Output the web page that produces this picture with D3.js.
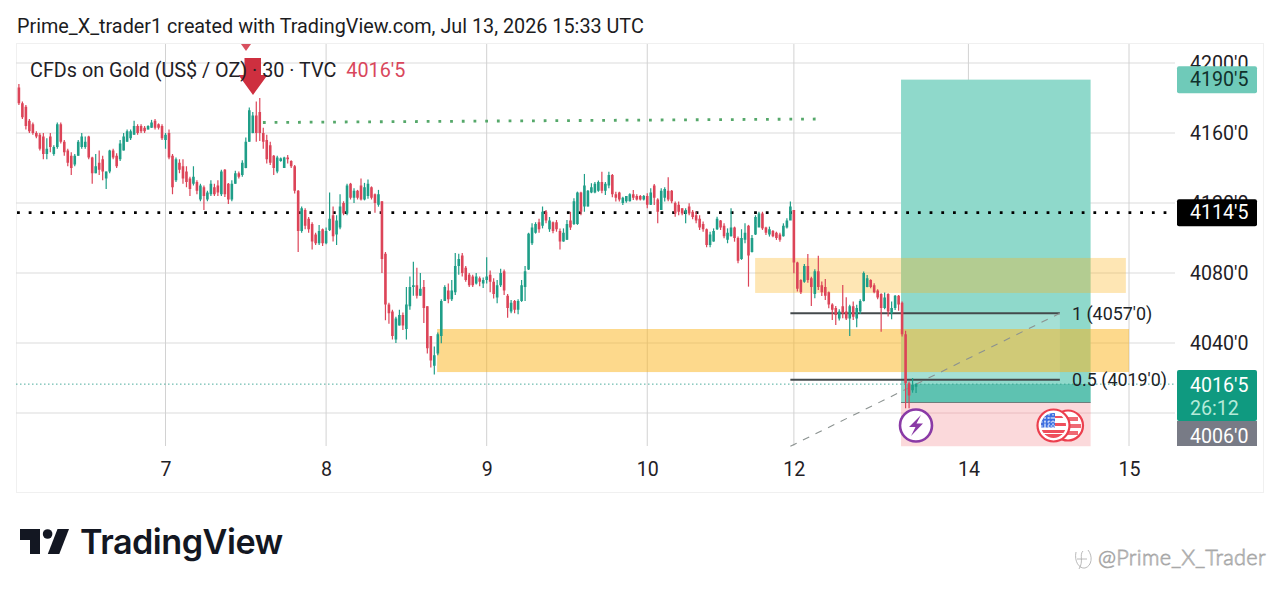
<!DOCTYPE html>
<html>
<head>
<meta charset="utf-8">
<script src="https://cdn.jsdelivr.net/npm/d3@7/dist/d3.min.js"></script>
<style>
  html, body { margin: 0; padding: 0; background: #fff; }
  svg { display: block; font-family: Roboto, sans-serif; }
</style>
</head>
<body>
<svg id="chart" width="1280" height="592"></svg>
<script>
// 30-minute gold candles, each row is open, high, low, close
const candles = [
[4186,4188,4176,4177],[4177,4178,4168,4169],[4175,4176,4162,4164],[4167,4168,4160,4161],[4165,4166,4159,4160],
[4160,4161,4157,4158],[4159,4160,4150,4151],[4158,4160,4145,4148],[4148,4157,4145,4151],[4158,4160,4149,4152],
[4148,4153,4147,4152],[4152,4166,4151,4165],[4165,4166,4154,4155],[4155,4156,4147,4149],[4150,4151,4141,4143],
[4147,4149,4136,4140],[4142,4148,4141,4147],[4147,4156,4147,4155],[4152,4160,4151,4158],[4152,4158,4151,4155],
[4158,4158.5,4145,4146],[4146,4146.5,4131,4137],[4137,4148,4137,4141],[4143,4150,4136,4139],[4145,4147,4133,4138],
[4134,4138,4128,4138],[4138,4150.5,4137,4150],[4150,4151,4145,4146],[4147,4148.5,4140,4141],[4145,4156,4144,4154],
[4150,4160,4150,4158],[4155,4162,4155,4161],[4157,4162,4156,4161],[4159,4167,4159,4164],[4164,4165,4159,4160],
[4164,4165,4160,4161],[4163,4164,4160,4161],[4162,4164.5,4162,4164],[4163,4167.5,4163,4166],[4167,4168,4162,4163],
[4165,4165.5,4162,4163],[4164,4165,4156,4157],[4156,4160,4151,4159],[4160,4162,4145,4146],[4147,4148,4125,4129],
[4133,4146,4132,4145],[4143,4145,4137,4139],[4141,4145,4131,4134],[4138,4141,4129,4132],[4134,4135,4124,4128],
[4131,4141,4130,4135],[4132,4133,4125,4127],[4122,4131,4121,4130],[4129,4130,4116,4124],[4122,4127,4121,4126],
[4125,4133,4124,4131],[4129,4131,4124,4125],[4130,4133,4124,4126],[4125,4139,4124,4138],[4139,4139.5,4123.5,4125],
[4131,4131.5,4119.5,4122],[4122,4133,4121,4131],[4131,4138.5,4131,4137],[4137,4138,4134,4135],[4136,4144.5,4135,4143],
[4140,4157.5,4139.8,4155],[4155,4174.6,4155,4173],[4160,4172,4159.8,4170],[4170,4178,4155,4160],[4172,4180,4155.5,4160],
[4160,4163,4151,4155],[4156,4159,4142.6,4145],[4153,4155,4141.7,4143],[4147,4147.4,4136,4140],[4138,4147,4137,4146],
[4144,4146,4143.6,4145.5],[4140,4146.4,4140,4146],[4146,4147.4,4142.6,4145],[4144,4144.5,4140,4141],[4141,4141.7,4125.5,4127],
[4127,4127.5,4092,4104],[4104,4118,4103,4117],[4116,4117,4105,4107],[4111,4112,4103,4105],[4108,4109,4093.5,4098],
[4102,4103,4096,4097],[4097,4107.5,4096,4104],[4105,4105.5,4095.5,4097],[4097,4106,4096.5,4104],[4104.5,4126,4104,4111],
[4113,4118,4098,4101],[4102,4113,4096,4110],[4106,4125,4105,4118],[4120,4121,4113,4114],[4114,4131,4113,4130],
[4131,4131.5,4122,4123],[4123,4128.5,4120,4127],[4127,4127.5,4122,4123],[4130,4134,4121.5,4122],[4122,4131.5,4121.5,4129],
[4124,4133.5,4122.5,4131],[4129,4129.5,4122,4123],[4125,4125.5,4114.5,4120],[4119,4127.5,4117.9,4125],[4121,4121,4080,4088],
[4091,4092,4053,4062],[4062,4063,4051,4057],[4058,4059,4042,4044],[4042,4055,4040,4054],[4050,4059,4050,4056],
[4056,4057.5,4047.5,4050],[4048,4072,4042,4062],[4061,4078,4059,4072],[4072,4086.5,4067,4073],[4073,4083,4065.5,4067],
[4067,4080,4067,4071],[4072,4076,4051.5,4060],[4061,4061,4034,4037],[4044,4044,4026,4030],[4027,4038,4022,4033],
[4034,4046,4033,4045],[4044,4065,4039.8,4064],[4064,4073,4064,4072],[4070,4074,4062.7,4065],[4065,4076,4064,4070],
[4069,4091.5,4067.5,4084],[4084,4091,4079,4088],[4090,4091.5,4078,4080],[4083,4084,4075,4076],[4079,4080,4072,4073],
[4078,4079,4072,4073],[4074,4080,4073.5,4078],[4077,4078,4072.5,4075],[4074,4077.5,4071.5,4076],[4076,4089,4074,4078],
[4079,4081.5,4069,4075],[4075,4077,4065.5,4068],[4066,4076,4062.7,4073],[4073,4082.5,4072,4080],[4081,4082,4067.5,4070],
[4067,4068,4054.5,4060],[4058,4064.6,4057,4063],[4064,4064.6,4057,4059],[4059,4065,4056.5,4064],[4064,4076,4063.5,4073],
[4072,4084,4064,4081],[4082,4103,4081.7,4102.5],[4097,4108.5,4096,4106],[4103,4109,4102.5,4108],[4109,4111,4103,4105],
[4107,4118,4105.5,4115],[4115,4116,4108.4,4110],[4105,4112,4103.5,4110],[4109,4109.4,4102.7,4104],[4109,4110.3,4103.6,4105],
[4104,4105.5,4093.5,4098],[4098,4105.5,4097.9,4103],[4099,4110.3,4098.9,4108],[4110,4115,4104.6,4106],[4108,4122.7,4107.5,4121],
[4108,4126.5,4107.5,4126],[4126,4126.5,4113,4115],[4118,4136.6,4115,4130],[4118,4127.5,4118,4127],[4126,4131.3,4125.6,4129],
[4126,4132,4125.6,4131],[4127,4132.8,4126.5,4132],[4132,4137.9,4125.6,4127],[4127,4132,4124.6,4131],[4130,4137.9,4128.4,4136],
[4136,4136.6,4123.3,4125],[4125,4126.5,4120.8,4123],[4126,4126.5,4120.8,4122],[4120,4123.6,4118.9,4123],[4121,4124,4120.2,4124],
[4121,4125.6,4120.8,4125],[4125,4127.5,4121.7,4123],[4124,4125,4121.4,4122],[4124,4124.6,4121.4,4122],[4122,4124.6,4121.4,4124],
[4124,4125.6,4117,4119],[4119,4128.4,4118.9,4126],[4130,4130.9,4118.9,4123],[4122,4122.7,4108.4,4115],[4116,4128.4,4116,4127],
[4123,4129,4120.8,4128],[4127,4134.7,4121,4122],[4127,4127.5,4119.8,4121],[4120,4120.8,4112.2,4114],[4119,4120.8,4113,4115],
[4117,4117,4113,4114],[4114,4117,4108.4,4116],[4118,4119.8,4113,4114],[4115,4116,4110.7,4112],[4113,4115,4108.4,4110],
[4111,4113,4104.6,4106],[4108,4109.4,4103.6,4105],[4105,4105.5,4094.7,4096],[4096,4103.6,4094.7,4102],[4098,4105.5,4097.9,4104],
[4105,4112.2,4104.6,4111],[4110,4110.3,4104.6,4106],[4107,4108.4,4099.8,4101],[4099,4105.5,4097,4103],[4101,4117,4100.8,4106],
[4106,4106.5,4097.9,4100],[4100,4100.8,4085.6,4087],[4088,4105,4087.5,4100],[4099,4108.4,4097,4103],[4107,4107.5,4072.2,4090],
[4092,4101.7,4091.7,4100],[4102,4113,4101.7,4112],[4106,4115,4106.5,4114],[4114,4115,4104.6,4105.5],[4106,4106.5,4101.7,4103],
[4102,4106.5,4100.8,4105],[4104,4104.6,4100.4,4101],[4103,4103.6,4098.9,4100],[4102,4103,4097.9,4099],[4101,4108.4,4100.8,4107],
[4106,4111.3,4105.5,4110],[4110,4120.8,4110.3,4118],[4116,4116,4079.9,4086],[4086,4086.5,4069.4,4071],[4076,4076.4,4068,4069],
[4075,4085.2,4074.5,4084],[4084,4090.9,4074.5,4076],[4077,4077.9,4061.2,4072],[4068,4082.1,4065.6,4081],[4081,4089.8,4070.3,4072],
[4073,4075.1,4066.9,4069],[4072,4076.6,4064.6,4067],[4069,4069.4,4059.8,4062],[4062,4062.7,4053.2,4059],[4060,4061.2,4050.3,4056],
[4054,4059.3,4052.8,4058],[4061,4073.2,4054.1,4057],[4058,4066.1,4053.2,4054],[4054,4061.8,4044,4061],[4061,4063.7,4053.2,4055],
[4054,4061.8,4049,4060],[4058,4065,4056.6,4064],[4064,4080.8,4063.7,4080],[4072,4078.9,4071.9,4077],[4076,4076.4,4071.3,4072],
[4073,4074.1,4068.4,4069],[4070,4070.7,4065,4066],[4068,4068.4,4046.5,4060],[4060,4068.8,4059.3,4066],[4068,4068.4,4055.1,4058],
[4057,4063.7,4053.6,4060],[4060,4067.5,4058.9,4067],[4067,4067.5,4058.5,4062],[4063,4063.7,4043.7,4045],[4045,4047,4002.7,4017],
[4017,4018,4002.7,4010],[4013,4020,4011.6,4016],[4015,4017,4011.5,4016.5]
];

const priceTicks = [4200, 4160, 4120, 4080, 4040, 4000];
const dayLabels = ["7", "8", "9", "10", "12", "14", "15"];
const dayBars = [42, 88, 134, 180, 222, 272, 318];

const lastPrice = 4016.5;
const takeProfit = 4190.5;
const entryPrice = 4006;
const stopPrice = 3981;
const keyLevel = 4114.5;
const fibOne = 4057;
const fibHalf = 4019;

// Bar spans and price spans of the drawn rectangles and trend lines
const positionBars = [252.7, 307];
const upperZoneBars = [210.9, 317.1];
const upperZonePrices = [4088.6, 4068.6];
const lowerZoneBars = [119.8, 318];
const lowerZonePrices = [4048, 4023.4];
const fibBars = [221, 298.2];
const trendBars = [69.9, 228.9];
const trendPrices = [4166, 4168];

const UP = "#1f9e88", DOWN = "#dc4458";
const svg = d3.select("#chart");

const x = d3.scaleLinear().domain([0, 318]).range([18.9, 1129]);
const y = d3.scaleLinear().domain([4200, 4000]).range([63, 413]);
const plotLeft = 16, plotRight = 1175, plotTop = 44, plotBottom = 446;

// Page heading
svg.append("text").attr("x", 17).attr("y", 32.5).attr("font-size", 19.8).attr("fill", "#1c1c1e")
  .text("Prime_X_trader1 created with TradingView.com, Jul 13, 2026 15:33 UTC");

// Chart frame
svg.append("rect").attr("x", 16.5).attr("y", 43.5).attr("width", 1247).attr("height", 449)
  .attr("fill", "none").attr("stroke", "#f0f0f0");

// Grid from the two scales
const gridG = svg.append("g");
gridG.selectAll(".h").data(priceTicks).join("line")
  .attr("x1", plotLeft).attr("x2", plotRight).attr("y1", d => y(d)).attr("y2", d => y(d))
  .attr("stroke", "#dbdbdb").attr("stroke-width", 1);
gridG.selectAll(".v").data(dayBars).join("line")
  .attr("x1", d => x(d)).attr("x2", d => x(d)).attr("y1", plotTop).attr("y2", plotBottom)
  .attr("stroke", "#d2d2d2").attr("stroke-width", 1);

function band(bars, prices, fill, opacity) {
  const top = y(d3.max(prices)), bottom = y(d3.min(prices));
  return svg.append("rect").attr("x", x(bars[0])).attr("width", x(bars[1]) - x(bars[0]))
    .attr("y", top).attr("height", bottom - top).attr("fill", fill).attr("fill-opacity", opacity);
}

// Long position tool: profit side, stop side, and the filled part up to the last price
band(positionBars, [takeProfit, entryPrice], "#8fd9cb", 1);
band(positionBars, [entryPrice, stopPrice], "#fbd9db", 1);
band([254, positionBars[1]], [lastPrice, entryPrice], "#089981", 0.36);

// Retracement fill between its two levels
band([positionBars[0], fibBars[1]], [fibOne, fibHalf], "#ffffff", 0.2);

// Supply and demand zones
band(upperZoneBars, upperZonePrices, "#fbb31a", 0.33);
band(lowerZoneBars, lowerZonePrices, "#fbb31a", 0.5);

// Grid faintly showing through the position tool
svg.append("g").selectAll("line").data(priceTicks.filter(d => d === 4000)).join("line")
  .attr("x1", x(positionBars[0])).attr("x2", x(positionBars[1])).attr("y1", d => y(d)).attr("y2", d => y(d))
  .attr("stroke", "#e9bcc0");

// Entry edge
svg.append("line").attr("x1", x(positionBars[0])).attr("x2", x(positionBars[1]))
  .attr("y1", y(entryPrice)).attr("y2", y(entryPrice)).attr("stroke", "#6f7d7c").attr("stroke-width", 1.2);

// Last price and key level
svg.append("line").attr("x1", plotLeft).attr("x2", plotRight).attr("y1", y(lastPrice)).attr("y2", y(lastPrice))
  .attr("stroke", "#2f9f8d").attr("stroke-width", 1).attr("stroke-dasharray", "1.5 2.5").attr("opacity", 0.85);
svg.append("line").attr("x1", 17).attr("x2", 1172).attr("y1", y(keyLevel)).attr("y2", y(keyLevel))
  .attr("stroke", "#000").attr("stroke-width", 2.8).attr("stroke-dasharray", "2.8 8.9");

// Green dotted trend line
svg.append("line").attr("x1", x(trendBars[0])).attr("x2", x(trendBars[1]))
  .attr("y1", y(trendPrices[0])).attr("y2", y(trendPrices[1]))
  .attr("stroke", "#55a86a").attr("stroke-width", 2.8).attr("stroke-dasharray", "2.8 8.9");

// Retracement levels and diagonal
[fibOne, fibHalf].forEach(level => {
  svg.append("line").attr("x1", x(fibBars[0])).attr("x2", x(fibBars[1])).attr("y1", y(level)).attr("y2", y(level))
    .attr("stroke", "#444a4c").attr("stroke-width", 1.8);
});
svg.append("line").attr("x1", x(fibBars[0])).attr("x2", x(fibBars[1])).attr("y1", y(stopPrice)).attr("y2", y(fibOne))
  .attr("stroke", "#8b9290").attr("stroke-width", 1.1).attr("stroke-dasharray", "7 7");

// Candles: one wick line and one body rectangle per row
const candleG = svg.append("g");
const barGroups = candleG.selectAll("g").data(candles).join("g")
  .attr("fill", d => d[3] >= d[0] ? UP : DOWN)
  .attr("stroke", d => d[3] >= d[0] ? UP : DOWN);
barGroups.append("line")
  .attr("x1", (d, i) => x(i)).attr("x2", (d, i) => x(i))
  .attr("y1", d => y(d[1])).attr("y2", d => y(d[2]))
  .attr("stroke-width", 1.2);
barGroups.append("rect")
  .attr("x", (d, i) => x(i) - 1.3).attr("width", 2.6)
  .attr("y", d => y(Math.max(d[0], d[3])))
  .attr("height", d => Math.max(0.8, Math.abs(y(d[0]) - y(d[3]))))
  .attr("stroke", "none");

// Price and date axes
const yAxis = d3.axisRight(y).tickValues(priceTicks.filter(d => d >= 4040))
  .tickSize(0).tickPadding(0).tickFormat(d => d + "'0");
const yG = svg.append("g").attr("transform", "translate(1190,0)").call(yAxis);
yG.select(".domain").remove();
yG.selectAll("text").attr("font-family", "Roboto, sans-serif").attr("font-size", 19.6).attr("fill", "#1f2126");

const xAxis = d3.axisBottom(x).tickValues(dayBars).tickSize(0).tickPadding(0)
  .tickFormat((d, i) => dayLabels[i]);
const xG = svg.append("g").attr("transform", "translate(0,462)").call(xAxis);
xG.select(".domain").remove();
xG.selectAll("text").attr("font-family", "Roboto, sans-serif").attr("font-size", 19.6).attr("fill", "#1f2126");

// Sell arrow above the swing high, under the legend text
svg.append("path").attr("d", "M244.5 58H261V75H267.5L253 95L238.5 75H244.5Z").attr("fill", "#ce2f3f");
svg.append("path").attr("d", "M241 44H251L246 51Z").attr("fill", "#d8505f");

// Symbol legend
const legend = svg.append("text").attr("x", 30).attr("y", 76.5).attr("font-size", 19.8).attr("fill", "#1f2126");
legend.append("tspan").text("CFDs on Gold (US$ / OZ) · 30 · TVC");
legend.append("tspan").attr("dx", 10).attr("fill", "#d9475c").text("4016'5");

// Fibonacci level labels
[[fibOne, "1 (4057'0)"], [fibHalf, "0.5 (4019'0)"]].forEach(([level, label]) => {
  svg.append("text").attr("x", 1072).attr("y", y(level)).attr("dy", "0.35em")
    .attr("font-size", 17.9).attr("fill", "#202326").text(label);
});

// Price tags on the axis
function tag(price, h, fill, ink, label) {
  const cy = y(price);
  svg.append("rect").attr("x", 1177).attr("y", cy - h / 2).attr("width", 80).attr("height", h).attr("rx", 2).attr("fill", fill);
  svg.append("text").attr("x", 1190).attr("y", cy).attr("dy", "0.35em").attr("font-size", 19.6).attr("fill", ink).text(label);
}
tag(takeProfit, 27, "#6fcab9", "#10312c", "4190'5");
tag(keyLevel, 27, "#000000", "#ffffff", "4114'5");
svg.append("rect").attr("x", 1177).attr("y", 370).attr("width", 80).attr("height", 51).attr("rx", 2).attr("fill", "#0f9a80");
svg.append("text").attr("x", 1190).attr("y", 392).attr("font-size", 19.6).attr("fill", "#ffffff").text("4016'5");
svg.append("text").attr("x", 1190).attr("y", 415).attr("font-size", 19.6).attr("fill", "#b6ead9").text("26:12");
svg.append("rect").attr("x", 1177).attr("y", 421).attr("width", 80).attr("height", 25).attr("fill", "#787b86");
svg.append("text").attr("x", 1190).attr("y", 443).attr("font-size", 19.6).attr("fill", "#ffffff").text("4006'0");

// News marker
svg.append("circle").attr("cx", 916).attr("cy", 425.5).attr("r", 16).attr("fill", "#fff")
  .attr("stroke", "#8a3aa6").attr("stroke-width", 2.6);
svg.append("path").attr("d", "M921 415L909 427H915.5L911 436L923 423.5H916.5Z").attr("fill", "#8a3aa6");

// Currency event flags
svg.append("circle").attr("cx", 1068).attr("cy", 425.5).attr("r", 15).attr("fill", "#fff")
  .attr("stroke", "#ec3f4e").attr("stroke-width", 2.2);
svg.append("path").attr("d", "M1063 417H1078V421H1063ZM1063 424H1081V428H1063ZM1063 431H1078V435H1063Z").attr("fill", "#ef6a74");
svg.append("circle").attr("cx", 1053.5).attr("cy", 425.5).attr("r", 16).attr("fill", "#fff")
  .attr("stroke", "#ec3f4e").attr("stroke-width", 2.2);
const flagClip = svg.append("defs").append("clipPath").attr("id", "flagRound");
flagClip.append("circle").attr("cx", 1053.5).attr("cy", 425.5).attr("r", 12.5);
const flag = svg.append("g").attr("clip-path", "url(#flagRound)");
["M1040 416H1068V418H1040Z", "M1040 423H1068V426H1040Z", "M1040 430H1068V433H1040Z", "M1040 434H1068V439H1040Z"]
  .forEach(d => flag.append("path").attr("d", d).attr("fill", "#ef4f5c"));
flag.append("rect").attr("x", 1041).attr("y", 413).attr("width", 14).attr("height", 14.5).attr("fill", "#3d6fe0");
flag.append("path").attr("d", "M1045 414V428M1049 414V428M1053 414V428M1041 418H1055M1041 422H1055M1041 426H1055")
  .attr("stroke", "#fff").attr("stroke-width", 1.1).attr("stroke-dasharray", "1.6 1.6");

// Brand mark and wordmark
const brand = svg.append("g").attr("fill", "#131722");
brand.append("path").attr("d", "M20 529H40V554H30V540H20Z");
brand.append("circle").attr("cx", 47.6).attr("cy", 534).attr("r", 4.8);
brand.append("path").attr("d", "M57.5 529H69L59.3 554H47.8Z");
brand.append("text").attr("x", 80).attr("y", 554).attr("font-family", "Inter, Roboto, sans-serif")
  .attr("font-size", 34.2).attr("font-weight", 600).attr("letter-spacing", -0.5).text("TradingView");

// Account watermark
const mark = svg.append("g").attr("fill", "#ffffff").attr("stroke", "#a8a8a8").attr("stroke-width", 0.8);
mark.append("path").attr("d", "M1076 552C1074 561 1079 569 1085 568C1092 566 1093 556 1088 550M1083 551C1079 555 1084 561 1079 569M1077 559H1087")
  .attr("fill", "none");
mark.append("text").attr("x", 1098).attr("y", 565).attr("font-family", "Lato, sans-serif")
  .attr("font-size", 21.7).attr("font-weight", 300).attr("letter-spacing", 0.3).text("@Prime_X_Trader");
</script>
</body>
</html>
